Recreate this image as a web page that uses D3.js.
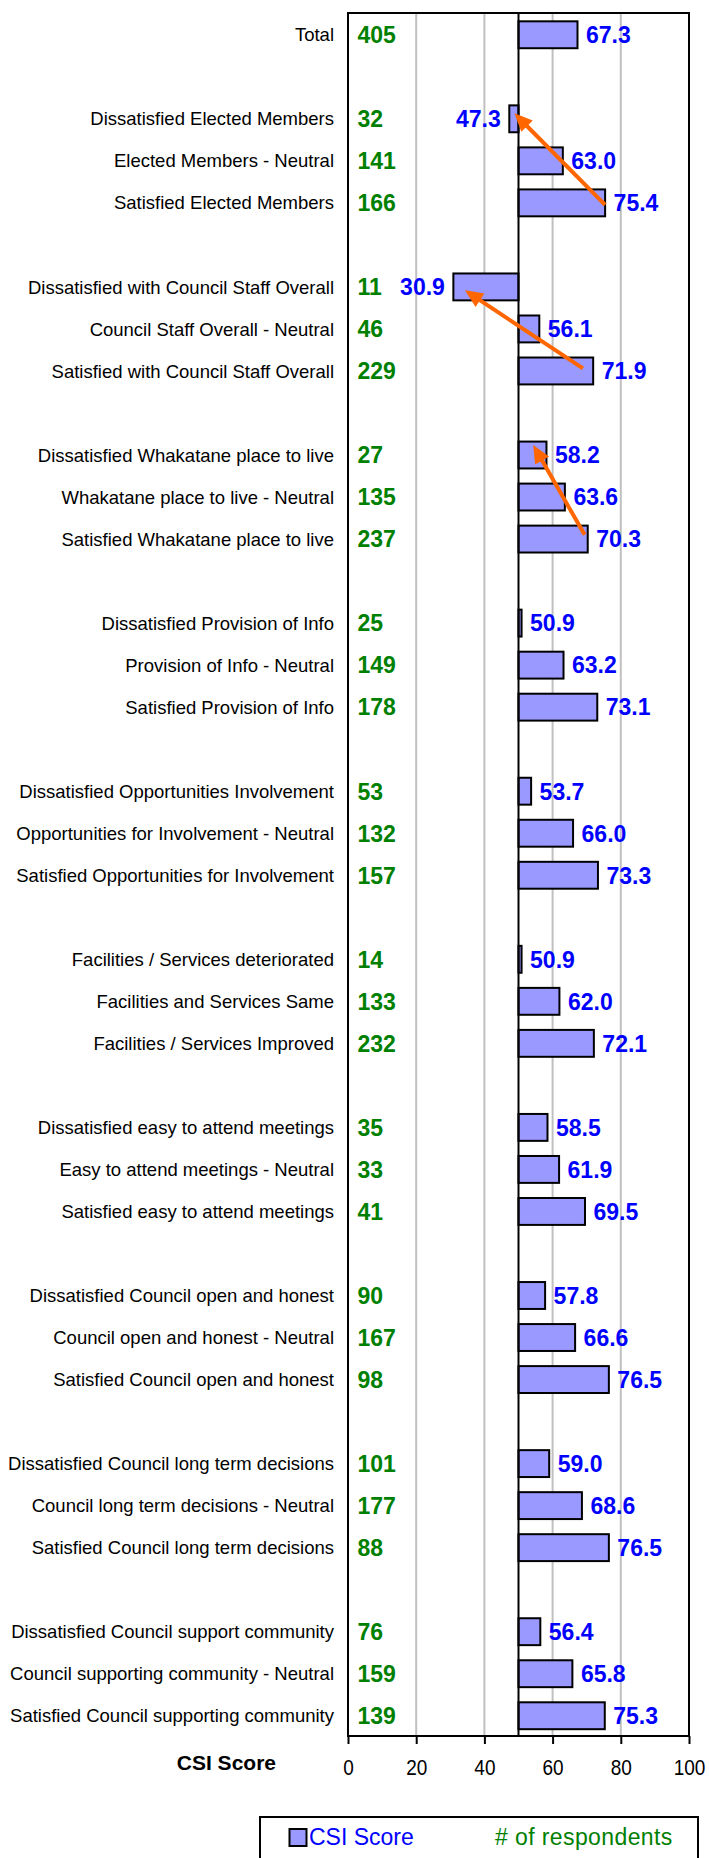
<!DOCTYPE html>
<html>
<head>
<meta charset="utf-8">
<script src="https://cdnjs.cloudflare.com/ajax/libs/d3/7.8.5/d3.min.js"></script>
<style>
body { margin: 0; background: #fff; }
text { font-family: "Liberation Sans", Arial, sans-serif; }
</style>
</head>
<body>
<div id="c"></div>
<script>
// rows of the chart, "" = blank spacer row
var categories = [
	"Total", "",
	"Dissatisfied Elected Members", "Elected Members - Neutral", "Satisfied Elected Members", "",
	"Dissatisfied with Council Staff Overall", "Council Staff Overall - Neutral", "Satisfied with Council Staff Overall", "",
	"Dissatisfied Whakatane place to live", "Whakatane place to live - Neutral", "Satisfied Whakatane place to live", "",
	"Dissatisfied Provision of Info", "Provision of Info - Neutral", "Satisfied Provision of Info", "",
	"Dissatisfied Opportunities Involvement", "Opportunities for Involvement - Neutral", "Satisfied Opportunities for Involvement", "",
	"Facilities / Services deteriorated", "Facilities and Services Same", "Facilities / Services Improved", "",
	"Dissatisfied easy to attend meetings", "Easy to attend meetings - Neutral", "Satisfied easy to attend meetings", "",
	"Dissatisfied Council open and honest", "Council open and honest - Neutral", "Satisfied Council open and honest", "",
	"Dissatisfied Council long term decisions", "Council long term decisions - Neutral", "Satisfied Council long term decisions", "",
	"Dissatisfied Council support community", "Council supporting community - Neutral", "Satisfied Council supporting community"
];

var csi = [
	67.3, null,
	47.3, 63.0, 75.4, null,
	30.9, 56.1, 71.9, null,
	58.2, 63.6, 70.3, null,
	50.9, 63.2, 73.1, null,
	53.7, 66.0, 73.3, null,
	50.9, 62.0, 72.1, null,
	58.5, 61.9, 69.5, null,
	57.8, 66.6, 76.5, null,
	59.0, 68.6, 76.5, null,
	56.4, 65.8, 75.3
];

var respondents = [
	405, null,
	32, 141, 166, null,
	11, 46, 229, null,
	27, 135, 237, null,
	25, 149, 178, null,
	53, 132, 157, null,
	14, 133, 232, null,
	35, 33, 41, null,
	90, 167, 98, null,
	101, 177, 88, null,
	76, 159, 139
];

var x_ticks = [0, 20, 40, 60, 80, 100];
var grid_vals = [20, 40, 60, 80];
var base_val = 50;

// orange arrows: row index + score at each end, dy = offset in row steps
var arrows = [
	{ from: 4, from_x: 75.4, from_dy: 0.05, to: 2, to_x: 48.8, to_dy: -0.13 },
	{ from: 8, from_x: 68.9, from_dy: -0.06, to: 6, to_x: 34.3, to_dy: 0.08 },
	{ from: 12, from_x: 69.4, from_dy: -0.1, to: 10, to_x: 54.3, to_dy: -0.24 }
];

var width = 709;
var height = 1858;
var plot_top = 13, plot_bottom = 1736;
var plot_left = 348, plot_right = 689;

var rows = d3.range(categories.length);

var svg = d3.select("#c").append("svg")
	.attr("width", width)
	.attr("height", height);

var x_scale = d3.scaleLinear()
	.domain([0, 100])
	.range([plot_left, plot_right]);

var y_scale = d3.scaleBand()
	.domain(rows)
	.range([plot_top, plot_bottom])
	.paddingInner(0.36)
	.paddingOuter(0.18)
	.align(0.55);

function y_mid(i) { return y_scale(i) + y_scale.bandwidth() / 2; }

// gridlines
svg.append("g")
	.selectAll("line")
	.data(grid_vals)
	.enter()
	.append("line")
	.attr("x1", function(d) { return x_scale(d); })
	.attr("x2", function(d) { return x_scale(d); })
	.attr("y1", plot_top)
	.attr("y2", plot_bottom)
	.attr("stroke", "#c0c0c0")
	.attr("stroke-width", 2);

// bars, drawn from 50
var data_rows = rows.filter(function(i) { return csi[i] != null; });

svg.append("g")
	.selectAll("rect")
	.data(data_rows)
	.enter()
	.append("rect")
	.attr("x", function(i) { return x_scale(Math.min(base_val, csi[i])); })
	.attr("y", function(i) { return y_scale(i); })
	.attr("width", function(i) { return Math.abs(x_scale(csi[i]) - x_scale(base_val)); })
	.attr("height", y_scale.bandwidth())
	.attr("fill", "#9999ff")
	.attr("stroke", "#000")
	.attr("stroke-width", 2);

// axis line at 50
svg.append("line")
	.attr("x1", x_scale(base_val))
	.attr("x2", x_scale(base_val))
	.attr("y1", plot_top)
	.attr("y2", plot_bottom)
	.attr("stroke", "#000")
	.attr("stroke-width", 2);

// plot frame
svg.append("rect")
	.attr("x", plot_left)
	.attr("y", plot_top)
	.attr("width", plot_right - plot_left)
	.attr("height", plot_bottom - plot_top)
	.attr("fill", "none")
	.attr("stroke", "#000")
	.attr("stroke-width", 2);

// bottom axis
var x_axis = svg.append("g")
	.attr("transform", "translate(0," + plot_bottom + ")")
	.call(d3.axisBottom(x_scale).tickValues(x_ticks).tickSize(8).tickPadding(13));

x_axis.select(".domain").remove();
x_axis.selectAll(".tick line")
	.attr("stroke", "#000")
	.attr("stroke-width", 2);
x_axis.selectAll(".tick text")
	.attr("font-family", "Liberation Sans, Arial, sans-serif")
	.attr("font-size", 19)
	.attr("fill", "#000")
	.attr("transform", "scale(1,1.12)");

svg.append("text")
	.attr("x", 276)
	.attr("y", 1770)
	.attr("text-anchor", "end")
	.attr("font-size", 21)
	.attr("font-weight", "bold")
	.attr("fill", "#000")
	.text("CSI Score");

// category labels
svg.append("g")
	.selectAll("text")
	.data(data_rows)
	.enter()
	.append("text")
	.attr("x", 334)
	.attr("y", function(i) { return y_mid(i) + 6.6; })
	.attr("text-anchor", "end")
	.attr("font-size", 18.5)
	.attr("fill", "#000")
	.text(function(i) { return categories[i]; });

// respondent counts
svg.append("g")
	.selectAll("text")
	.data(data_rows)
	.enter()
	.append("text")
	.attr("x", 357.5)
	.attr("y", function(i) { return y_mid(i) + 8.3; })
	.attr("font-size", 23)
	.attr("font-weight", "bold")
	.attr("fill", "#008000")
	.text(function(i) { return respondents[i]; });

// score labels
svg.append("g")
	.selectAll("text")
	.data(data_rows)
	.enter()
	.append("text")
	.attr("x", function(i) {
		return csi[i] < base_val ? x_scale(csi[i]) - 8.5 : x_scale(csi[i]) + 8.5;
	})
	.attr("y", function(i) { return y_mid(i) + 8.3; })
	.attr("text-anchor", function(i) { return csi[i] < base_val ? "end" : "start"; })
	.attr("font-size", 23)
	.attr("font-weight", "bold")
	.attr("fill", "#0000ff")
	.text(function(i) { return csi[i].toFixed(1); });

// arrows
var step = y_scale.step();
var head_len = 18, head_w = 16;
var arrow_g = svg.append("g");
arrows.forEach(function(a) {
	var x1 = x_scale(a.from_x), y1 = y_mid(a.from) + a.from_dy * step;
	var x2 = x_scale(a.to_x), y2 = y_mid(a.to) + a.to_dy * step;
	var dx = x2 - x1, dy = y2 - y1;
	var len = Math.sqrt(dx * dx + dy * dy);
	var ux = dx / len, uy = dy / len;
	var bx = x2 - ux * head_len, by = y2 - uy * head_len;
	arrow_g.append("line")
		.attr("x1", x1).attr("y1", y1)
		.attr("x2", bx + ux * 2).attr("y2", by + uy * 2)
		.attr("stroke", "#ff6600")
		.attr("stroke-width", 4);
	arrow_g.append("path")
		.attr("d", "M" + x2 + "," + y2 +
			"L" + (bx - uy * head_w / 2) + "," + (by + ux * head_w / 2) +
			"L" + (bx + uy * head_w / 2) + "," + (by - ux * head_w / 2) + "Z")
		.attr("fill", "#ff6600");
});

// legend
var legend = svg.append("g");
legend.append("rect")
	.attr("x", 260)
	.attr("y", 1817)
	.attr("width", 438)
	.attr("height", 70)
	.attr("fill", "#fff")
	.attr("stroke", "#000")
	.attr("stroke-width", 2);
legend.append("rect")
	.attr("x", 289.5)
	.attr("y", 1829)
	.attr("width", 17)
	.attr("height", 17)
	.attr("fill", "#9999ff")
	.attr("stroke", "#000")
	.attr("stroke-width", 2);
legend.append("text")
	.attr("x", 309)
	.attr("y", 1845)
	.attr("font-size", 23)
	.attr("fill", "#0000ff")
	.text("CSI Score");
legend.append("text")
	.attr("x", 495)
	.attr("y", 1845)
	.attr("font-size", 23)
	.attr("letter-spacing", 0.4)
	.attr("fill", "#008000")
	.text("# of respondents");
</script>
</body>
</html>
